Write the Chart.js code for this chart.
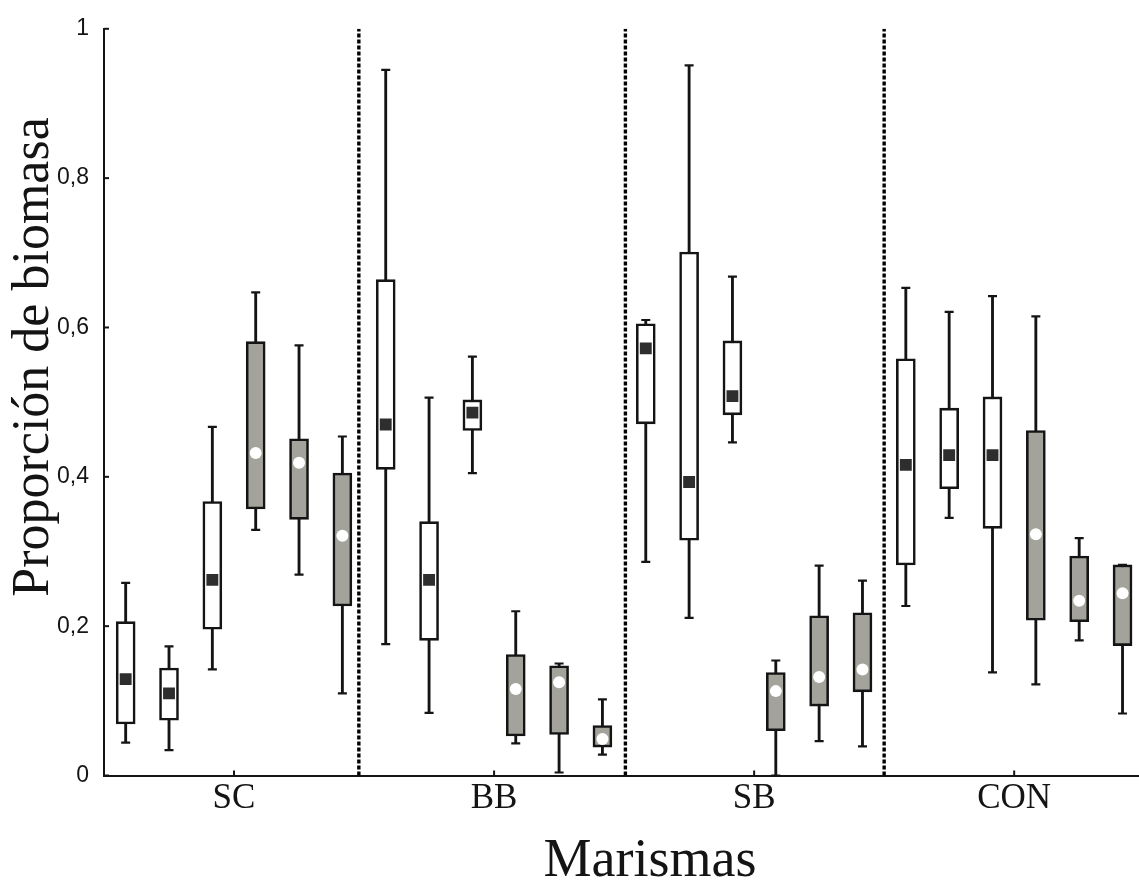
<!DOCTYPE html>
<html><head><meta charset="utf-8">
<script src="https://cdn.jsdelivr.net/npm/chart.js@4.4.1/dist/chart.umd.min.js"></script>
<style>html,body{margin:0;padding:0;background:#fff;} #wrap{width:1139px;height:883px;}</style>
</head><body><div id="wrap"><canvas id="c" width="1139" height="883"></canvas></div>
<script>
// Groups (marismas) and box kinds within each group
const groups = ['SC', 'BB', 'SB', 'CON'];
const boxKinds = ['open', 'open', 'open', 'shaded', 'shaded', 'shaded'];
const xTitle = 'Marismas';
const yTitle = 'Proporción de biomasa';

// Box-plot statistics, 6 boxes per group, in order SC(6), BB(6), SB(6), CON(6)
const whiskerMax = [0.258, 0.173, 0.467, 0.647, 0.576, 0.454,
                    0.945, 0.506, 0.561, 0.220, 0.150, 0.102,
                    0.610, 0.951, 0.668, 0.154, 0.281, 0.261,
                    0.653, 0.621, 0.642, 0.615, 0.318, 0.282];
const upperQ   = [0.206, 0.144, 0.367, 0.581, 0.451, 0.405,
                    0.664, 0.340, 0.503, 0.162, 0.147, 0.067,
                    0.605, 0.701, 0.582, 0.138, 0.214, 0.218,
                    0.558, 0.492, 0.507, 0.462, 0.294, 0.282];
const medians  = [0.129, 0.110, 0.262, 0.432, 0.419, 0.321,
                    0.470, 0.262, 0.486, 0.116, 0.125, 0.049,
                    0.572, 0.393, 0.508, 0.113, 0.132, 0.142,
                    0.416, 0.429, 0.429, 0.323, 0.234, 0.244];
const lowerQ   = [0.069, 0.074, 0.196, 0.357, 0.343, 0.227,
                    0.410, 0.181, 0.462, 0.053, 0.055, 0.038,
                    0.471, 0.315, 0.483, 0.060, 0.093, 0.112,
                    0.282, 0.384, 0.331, 0.208, 0.206, 0.174];
const whiskerMin = [0.044, 0.034, 0.142, 0.329, 0.269, 0.110,
                    0.176, 0.084, 0.405, 0.043, 0.004, 0.028,
                    0.286, 0.211, 0.446, 0.000, 0.046, 0.039,
                    0.227, 0.345, 0.138, 0.122, 0.181, 0.083];

// Y tick values and separator positions (between groups)
const yTicks = [0, 0.2, 0.4, 0.6, 0.8, 1];
const separators = [1.48, 2.505, 3.5];

const perGroup = boxKinds.length;
const xPos = i => Math.floor(i / perGroup) + 1 + ((i % perGroup) - (perGroup - 1) / 2) / perGroup;
const kindOf = i => boxKinds[i % perGroup];
const idx = whiskerMax.map((_, i) => i);

const INK = '#141414';
const SHADE = '#a3a39b';
const SERIF = '"Liberation Serif", "Times New Roman", serif';

const datasets = [];
separators.forEach(s => datasets.push({
  type: 'line', data: [{x: s, y: 0}, {x: s, y: 1}],
  borderColor: '#000', borderWidth: 3.4, borderDash: [4, 2], pointRadius: 0, order: 10
}));
datasets.push({
  type: 'bar', data: idx.map(i => ({x: xPos(i), y: [whiskerMin[i], whiskerMax[i]]})),
  backgroundColor: INK, borderWidth: 0, barThickness: 2.2, grouped: false, order: 6
});
datasets.push({
  type: 'scatter', data: idx.map(i => ({x: xPos(i), y: whiskerMax[i]})).concat(idx.map(i => ({x: xPos(i), y: whiskerMin[i]}))),
  pointStyle: 'line', pointRadius: 4.5, pointBorderWidth: 2.2, pointBorderColor: INK, showLine: false, order: 5
});
datasets.push({
  type: 'bar', data: idx.map(i => ({x: xPos(i), y: [lowerQ[i], upperQ[i]]})),
  backgroundColor: idx.map(i => kindOf(i) === 'open' ? '#ffffff' : SHADE),
  borderColor: INK, borderWidth: 2.6, borderSkipped: false, barThickness: 19, grouped: false, order: 3
});
datasets.push({
  type: 'scatter', data: idx.filter(i => kindOf(i) === 'open').map(i => ({x: xPos(i), y: medians[i]})),
  pointStyle: 'rect', pointRadius: 8.4, pointBackgroundColor: '#2e2e2e', pointBorderWidth: 0, showLine: false, order: 1
});
datasets.push({
  type: 'scatter', data: idx.filter(i => kindOf(i) === 'shaded').map(i => ({x: xPos(i), y: medians[i]})),
  pointStyle: 'circle', pointRadius: 6, pointBackgroundColor: '#ffffff', pointBorderWidth: 0, showLine: false, order: 0
});

const axisDecor = {
  id: 'axisDecor',
  afterDraw(chart) {
    const {ctx, scales: {x, y}, chartArea: a} = chart;
    ctx.save();
    ctx.strokeStyle = INK; ctx.lineWidth = 2;
    yTicks.forEach(v => { const py = y.getPixelForValue(v); ctx.beginPath(); ctx.moveTo(a.left, py); ctx.lineTo(a.left + 5, py); ctx.stroke(); });
    groups.forEach((g, i) => { const px = x.getPixelForValue(i + 1); ctx.beginPath(); ctx.moveTo(px, a.bottom); ctx.lineTo(px, a.bottom - 5); ctx.stroke(); });
    // axis titles (placed as in the original figure)
    ctx.fillStyle = INK;
    ctx.textAlign = 'center';
    ctx.textBaseline = 'alphabetic';
    ctx.font = '54px ' + SERIF;
    ctx.fillText(xTitle, 650, 876);
    ctx.translate(48, 357);
    ctx.rotate(-Math.PI / 2);
    ctx.font = '52px ' + SERIF;
    ctx.fillText(yTitle, 0, 0);
    ctx.restore();
  }
};

new Chart(document.getElementById('c'), {
  type: 'scatter',
  data: {datasets},
  plugins: [axisDecor],
  options: {
    responsive: false, animation: false,
    layout: {autoPadding: false, padding: {top: 25.5, right: 0, left: 0, bottom: 0}},
    plugins: {legend: {display: false}, tooltip: {enabled: false}},
    scales: {
      x: {
        type: 'linear', min: 0.5, max: 4.48, offset: false,
        grid: {display: false, drawTicks: false},
        border: {display: true, color: INK, width: 2},
        afterBuildTicks: s => { s.ticks = groups.map((g, i) => ({value: i + 1})); },
        afterFit: s => { s.height = 107.5; },
        ticks: {callback: (v, i) => groups[i], color: INK, padding: 2,
                font: {family: SERIF, size: 35}},
        title: {display: false}
      },
      y: {
        type: 'linear', min: 0, max: 1,
        grid: {display: false, drawTicks: false},
        border: {display: true, color: INK, width: 2},
        afterBuildTicks: s => { s.ticks = yTicks.map(v => ({value: v})); },
        afterFit: s => { s.width = 104; },
        ticks: {callback: v => String(+v.toFixed(1)).replace('.', ','), color: INK, padding: 15,
                font: {family: '"Liberation Sans", Arial, sans-serif', size: 23}},
        title: {display: false}
      }
    }
  }
});
</script></body></html>
